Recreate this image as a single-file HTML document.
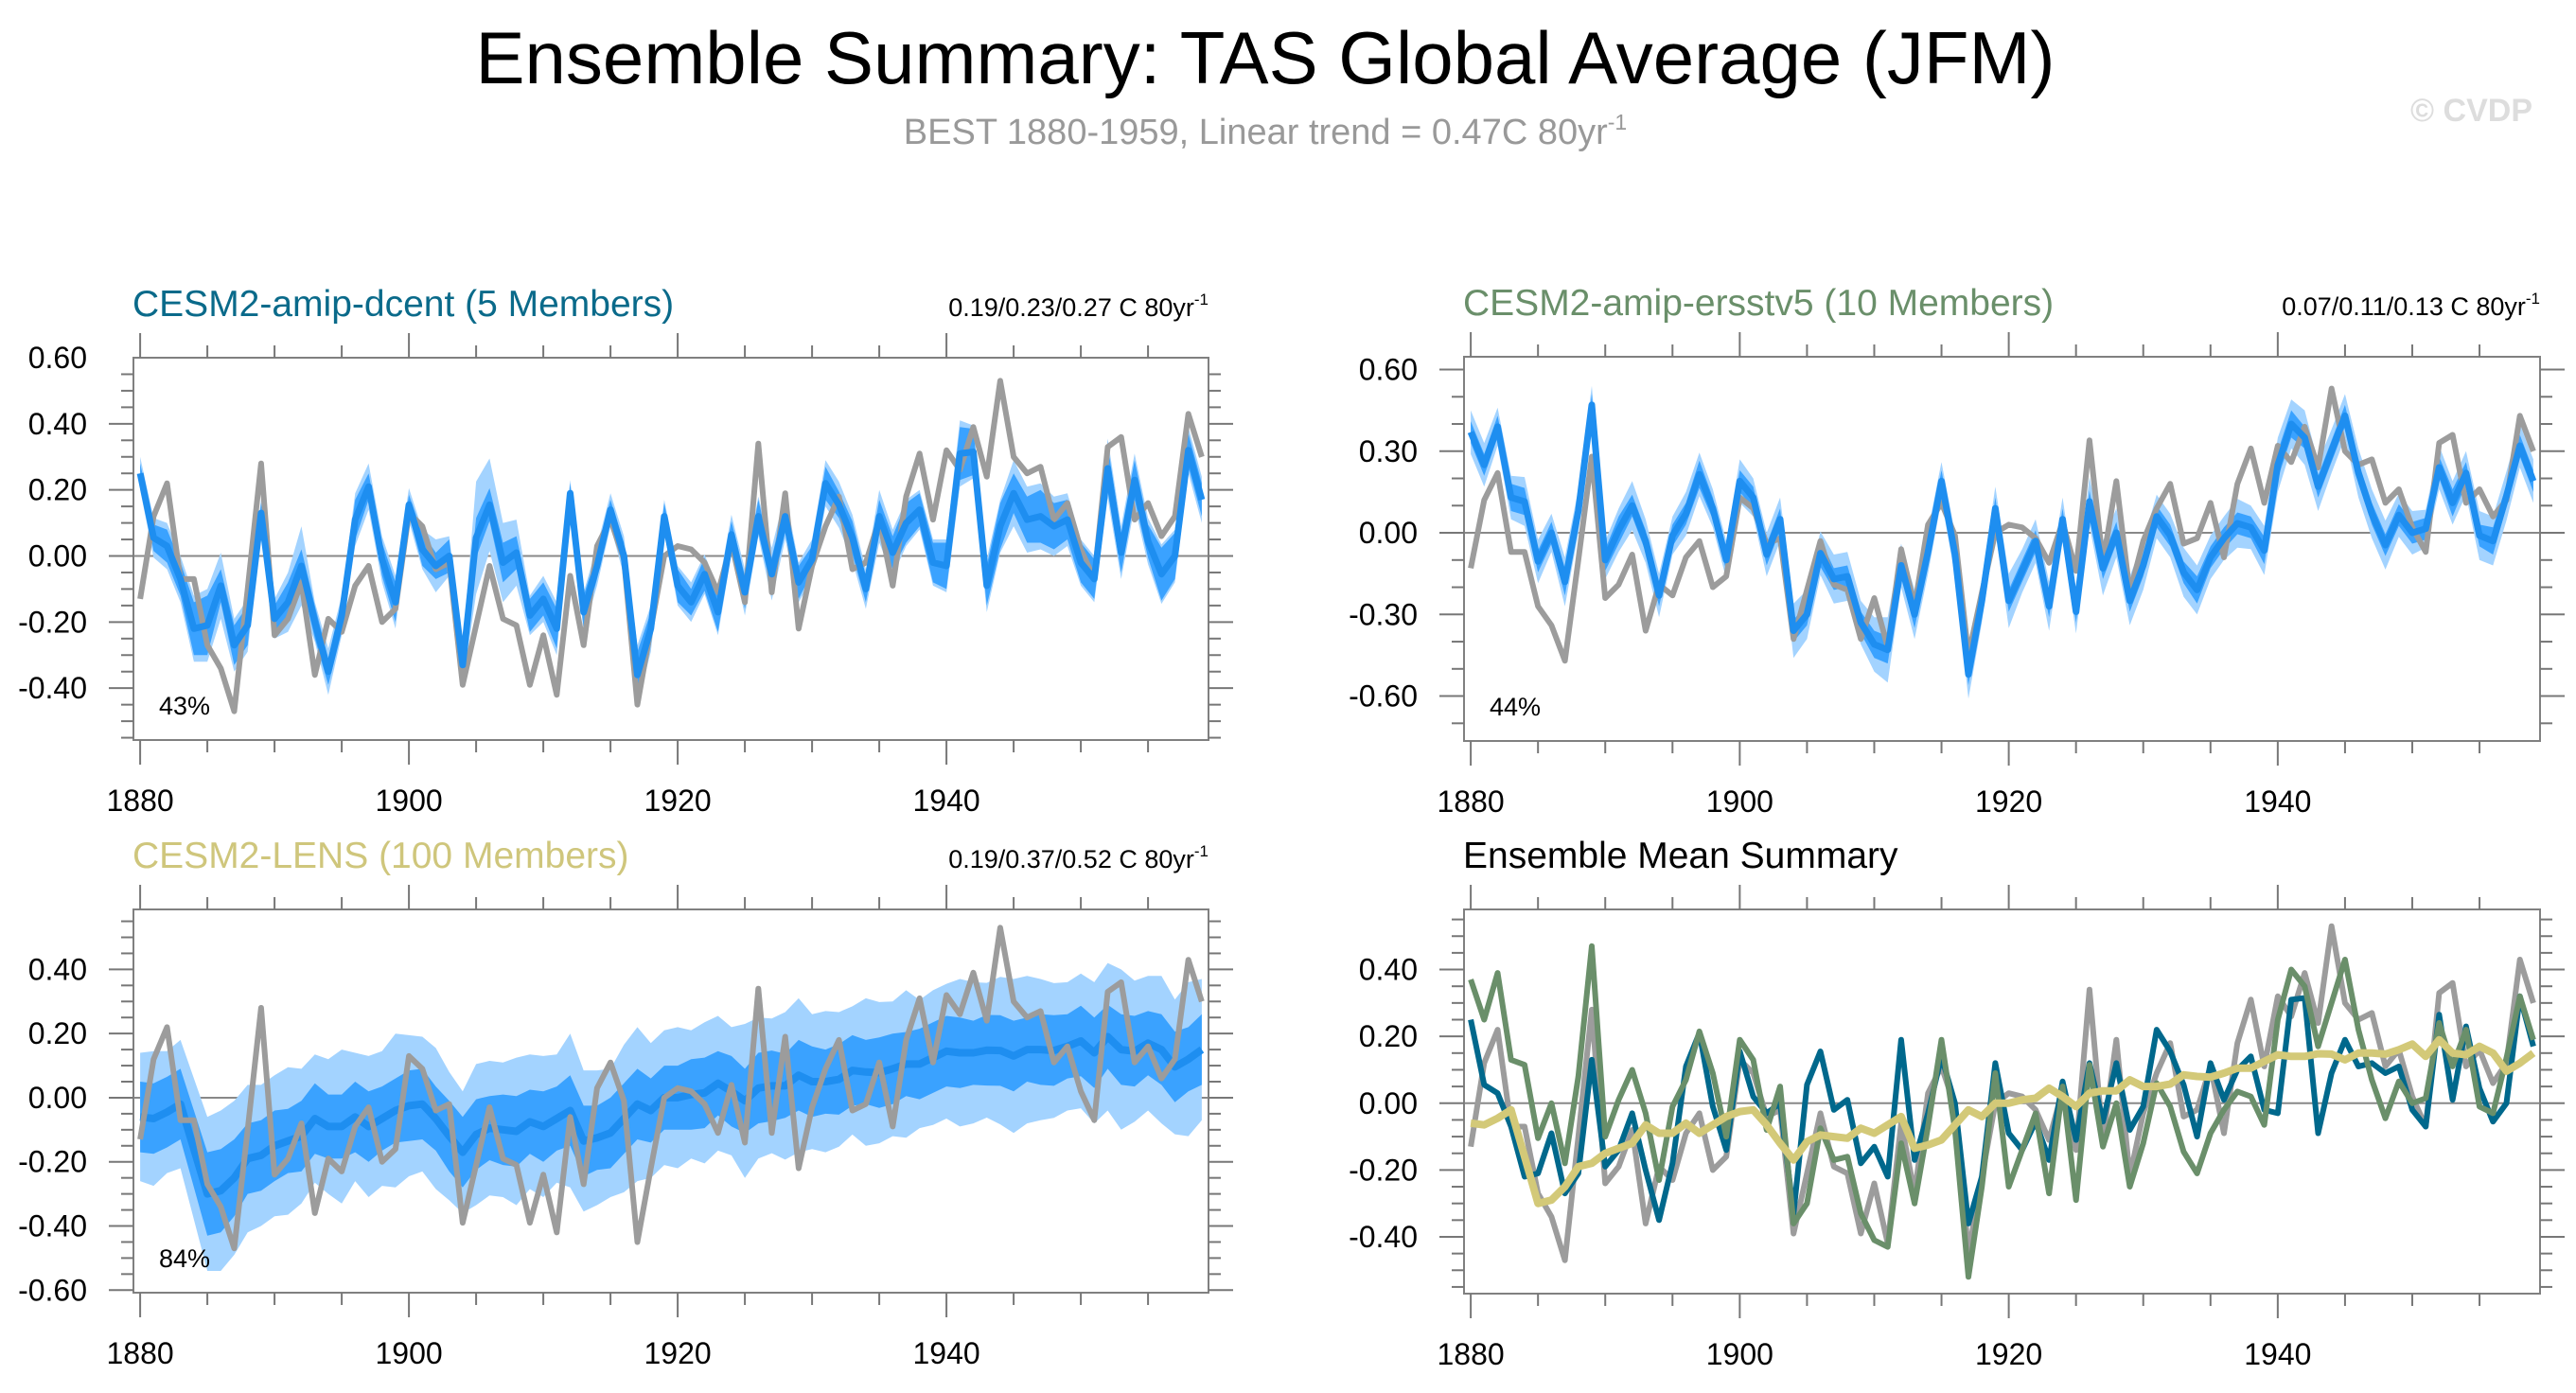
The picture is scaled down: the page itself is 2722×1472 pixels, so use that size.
<!DOCTYPE html>
<html><head><meta charset="utf-8"><style>
html,body{margin:0;padding:0;background:#fff}
svg{display:block;font-family:"Liberation Sans",Arial,sans-serif}
</style></head><body>
<svg id="fig" width="2722" height="1472" viewBox="0 0 2722 1472" xmlns="http://www.w3.org/2000/svg">
<text x="1337" y="88" font-size="78" text-anchor="middle" fill="#000">Ensemble Summary: TAS Global Average (JFM)</text>
<text x="1337" y="152" font-size="38" text-anchor="middle" fill="#999">BEST 1880-1959, Linear trend = 0.47C 80yr<tspan font-size="23" dy="-15">-1</tspan></text>
<text x="2676" y="128" font-size="34" font-weight="bold" text-anchor="end" fill="#ddd">© CVDP</text>
<g id="plots"></g>
</svg>
<script>
const best = [-0.13,0.12,0.22,-0.07,-0.07,-0.27,-0.34,-0.47,-0.10,0.28,
-0.24,-0.19,-0.08,-0.36,-0.19,-0.23,-0.09,-0.03,-0.20,-0.16,
0.13,0.09,-0.04,-0.02,-0.39,-0.21,-0.03,-0.19,-0.21,-0.39,
-0.24,-0.42,-0.06,-0.27,0.03,0.11,-0.01,-0.45,-0.22,0.00,
0.03,0.02,-0.02,-0.11,0.04,-0.14,0.34,-0.11,0.19,-0.22,
-0.03,0.09,0.18,-0.04,-0.02,0.11,-0.09,0.18,0.31,0.11,
0.32,0.26,0.39,0.24,0.53,0.30,0.25,0.27,0.11,0.16,
0.02,-0.07,0.33,0.36,0.11,0.16,0.06,0.12,0.43,0.30];
const dcentMean = [0.25,0.055,0.03,-0.07,-0.22,-0.21,-0.09,-0.27,-0.21,0.13,
-0.19,-0.14,-0.03,-0.20,-0.35,-0.18,0.11,0.21,-0.01,-0.14,
0.155,0.02,-0.03,0.0,-0.33,0.055,0.155,-0.02,0.01,-0.18,
-0.13,-0.22,0.19,-0.17,-0.03,0.14,0.0,-0.36,-0.22,0.12,
-0.09,-0.14,-0.055,-0.17,0.065,-0.11,0.12,-0.055,0.12,-0.08,
-0.01,0.22,0.155,0.055,-0.10,0.12,0.01,0.10,0.14,-0.02,
-0.03,0.31,0.315,-0.09,0.09,0.19,0.11,0.12,0.09,0.11,
-0.02,-0.07,0.265,0.01,0.23,0.045,-0.055,0.0,0.32,0.17];
const ersstMean = [0.37,0.25,0.39,0.13,0.115,-0.105,0.0,-0.18,0.08,0.47,
-0.10,0.01,0.10,-0.03,-0.23,-0.01,0.07,0.215,0.09,-0.10,
0.19,0.13,-0.08,0.05,-0.36,-0.30,-0.075,-0.17,-0.16,-0.33,
-0.41,-0.43,-0.12,-0.30,-0.07,0.19,-0.08,-0.52,-0.25,0.09,
-0.25,-0.14,-0.03,-0.27,0.05,-0.29,0.115,-0.13,0.0,-0.25,
-0.12,0.06,-0.01,-0.145,-0.21,-0.09,-0.02,0.035,0.02,-0.065,
0.25,0.40,0.35,0.17,0.30,0.43,0.22,0.07,-0.045,0.065,
0.0,0.015,0.24,0.11,0.22,-0.01,-0.03,0.135,0.32,0.19];
const lensMean = [-0.06,-0.065,-0.045,-0.02,-0.16,-0.30,-0.29,-0.25,-0.19,-0.18,
-0.15,-0.135,-0.12,-0.065,-0.09,-0.09,-0.06,-0.09,-0.065,-0.04,
-0.025,-0.02,-0.065,-0.12,-0.17,-0.115,-0.095,-0.10,-0.105,-0.075,
-0.09,-0.065,-0.04,-0.135,-0.125,-0.11,-0.065,-0.02,-0.04,0.0,
0.0,0.01,0.015,0.045,0.02,-0.01,0.03,0.037,0.037,0.07,
0.05,0.05,0.057,0.085,0.08,0.078,0.09,0.105,0.105,0.125,
0.145,0.14,0.14,0.148,0.147,0.13,0.15,0.15,0.147,0.16,
0.177,0.14,0.19,0.15,0.145,0.17,0.15,0.096,0.12,0.15];
const dcentInner = [0.03,0.04,0.05,0.05,0.08,0.09,0.05,0.06,0.06,0.03,
0.04,0.06,0.05,0.05,0.04,0.05,0.06,0.04,0.05,0.06,
0.03,0.05,0.04,0.05,0.04,0.06,0.05,0.06,0.05,0.05,
0.05,0.06,0.03,0.05,0.04,0.03,0.04,0.07,0.05,0.04,
0.05,0.04,0.05,0.06,0.04,0.05,0.05,0.05,0.05,0.05,
0.04,0.05,0.04,0.05,0.04,0.05,0.05,0.06,0.05,0.06,
0.07,0.08,0.07,0.06,0.07,0.06,0.07,0.08,0.07,0.06,
0.06,0.06,0.07,0.06,0.06,0.05,0.08,0.07,0.05,0.05];
const dcentOuter = [0.05,0.06,0.07,0.07,0.10,0.11,0.10,0.08,0.08,0.04,
0.06,0.09,0.12,0.06,0.07,0.06,0.08,0.07,0.07,0.08,
0.05,0.06,0.08,0.06,0.06,0.17,0.14,0.12,0.10,0.06,
0.07,0.08,0.04,0.06,0.06,0.05,0.06,0.09,0.07,0.05,
0.06,0.06,0.06,0.07,0.06,0.07,0.06,0.08,0.07,0.06,
0.06,0.07,0.07,0.07,0.06,0.08,0.07,0.07,0.06,0.07,
0.08,0.10,0.08,0.08,0.08,0.10,0.10,0.10,0.09,0.08,
0.07,0.07,0.09,0.08,0.08,0.07,0.09,0.08,0.07,0.07];
const ersstInner = [0.04,0.04,0.04,0.05,0.05,0.04,0.04,0.05,0.04,0.04,
0.04,0.05,0.04,0.04,0.04,0.04,0.04,0.05,0.04,0.04,
0.04,0.04,0.04,0.04,0.04,0.04,0.05,0.04,0.04,0.04,
0.05,0.05,0.04,0.05,0.04,0.04,0.05,0.04,0.04,0.04,
0.04,0.04,0.04,0.04,0.04,0.04,0.04,0.04,0.04,0.04,
0.04,0.04,0.04,0.04,0.05,0.04,0.04,0.04,0.04,0.05,
0.05,0.05,0.04,0.04,0.04,0.04,0.04,0.04,0.04,0.04,
0.04,0.04,0.04,0.05,0.04,0.04,0.05,0.04,0.04,0.04];
const ersstOuter = [0.08,0.08,0.07,0.08,0.09,0.08,0.07,0.09,0.08,0.07,
0.07,0.08,0.09,0.08,0.08,0.07,0.08,0.08,0.07,0.07,
0.08,0.07,0.08,0.08,0.10,0.09,0.08,0.09,0.09,0.08,
0.10,0.12,0.08,0.09,0.08,0.07,0.08,0.09,0.08,0.08,
0.10,0.08,0.08,0.09,0.08,0.08,0.09,0.10,0.09,0.09,
0.09,0.08,0.08,0.09,0.09,0.08,0.08,0.09,0.08,0.09,
0.10,0.09,0.10,0.09,0.08,0.08,0.09,0.09,0.09,0.08,
0.08,0.07,0.08,0.08,0.08,0.09,0.09,0.09,0.08,0.08];
const lensInner = [0.11,0.11,0.11,0.11,0.12,0.13,0.13,0.12,0.11,0.11,
0.11,0.10,0.11,0.11,0.10,0.10,0.11,0.11,0.10,0.10,
0.11,0.11,0.10,0.11,0.11,0.11,0.10,0.11,0.11,0.10,
0.11,0.10,0.11,0.11,0.10,0.11,0.11,0.11,0.10,0.10,
0.10,0.11,0.11,0.10,0.11,0.10,0.11,0.11,0.10,0.11,
0.11,0.10,0.11,0.11,0.10,0.11,0.11,0.10,0.11,0.11,
0.11,0.11,0.10,0.11,0.11,0.11,0.10,0.11,0.11,0.10,
0.11,0.11,0.10,0.11,0.11,0.10,0.11,0.11,0.10,0.11];
const lensOuter = [0.20,0.21,0.19,0.20,0.22,0.24,0.25,0.24,0.23,0.22,
0.22,0.23,0.21,0.20,0.21,0.24,0.20,0.22,0.21,0.24,
0.22,0.21,0.22,0.20,0.19,0.22,0.21,0.21,0.23,0.21,
0.22,0.20,0.24,0.22,0.21,0.20,0.23,0.24,0.21,0.21,
0.22,0.20,0.22,0.21,0.20,0.24,0.22,0.21,0.23,0.24,
0.21,0.22,0.21,0.20,0.23,0.22,0.21,0.23,0.20,0.21,
0.21,0.23,0.22,0.21,0.23,0.24,0.23,0.22,0.21,0.20,
0.21,0.22,0.23,0.25,0.22,0.21,0.23,0.21,0.24,0.22];
const startYear = 1880;
const xTickYears = [1880,1900,1920,1940];
const ticks1 = [0.6,0.4,0.2,0,-0.2,-0.4];
const ticks2 = [0.6,0.3,0,-0.3,-0.6];
const ticks3 = [0.4,0.2,0,-0.2,-0.4,-0.6];
const ticks4 = [0.4,0.2,0,-0.2,-0.4];

const NS = "http://www.w3.org/2000/svg";
const root = document.getElementById('plots');
function mk(tag, attrs, parent){ const e=document.createElementNS(NS,tag); for(const k in attrs) e.setAttribute(k,attrs[k]); (parent||root).appendChild(e); return e; }

function panel(cfg){
  const g = mk('g',{});
  
  
  const xs = yr => cfg.x0 + (yr - (startYear-0.5)) / 80 * (cfg.x1 - cfg.x0);
  const ys = v => cfg.y1 - (v - cfg.ymin) / (cfg.ymax - cfg.ymin) * (cfg.y1 - cfg.y0);
  const n = best.length;
  const yr = i => startYear + i;
  const cid = 'clip'+cfg.name;
  const cp = mk('clipPath',{id:cid},g); mk('rect',{x:cfg.x0,y:cfg.y0,width:cfg.x1-cfg.x0,height:cfg.y1-cfg.y0},cp);
  const plot = mk('g',{'clip-path':'url(#'+cid+')'},g);
  function band(mean, half, color, nm){
    let up=[],dn=[];
    for(let i=0;i<n;i++){ up.push(xs(yr(i)).toFixed(1)+','+ys(mean[i]+half[i]).toFixed(1)); }
    for(let i=n-1;i>=0;i--){ dn.push(xs(yr(i)).toFixed(1)+','+ys(mean[i]-half[i]).toFixed(1)); }
    const p = mk('polygon',{points:up.concat(dn).join(' '),fill:color,stroke:'none'},plot);
    
    
  }
  function line(arr, color, w, nm){
    const pts = arr.map((v,i)=>xs(yr(i)).toFixed(1)+','+ys(v).toFixed(1)).join(' ');
    const p = mk('polyline',{points:pts,fill:'none',stroke:color,'stroke-width':w,'stroke-linejoin':'round'},plot);
    
    
  }
  const zl = mk('line',{x1:cfg.x0,x2:cfg.x1,y1:ys(0),y2:ys(0),stroke:'#888','stroke-width':2},plot);
  
  
  cfg.draw(band,line);
  const box = mk('rect',{x:cfg.x0,y:cfg.y0,width:cfg.x1-cfg.x0,height:cfg.y1-cfg.y0,fill:'none',stroke:'#808080','stroke-width':2},g);
  
  
  for(let y=startYear;y<startYear+80;y+=5){
    const major = (y-startYear)%20===0; const L = major?26:13; const x = xs(y);
    mk('line',{x1:x,x2:x,y1:cfg.y0,y2:cfg.y0-L,stroke:'#777','stroke-width':2},g);
    mk('line',{x1:x,x2:x,y1:cfg.y1,y2:cfg.y1+L,stroke:'#777','stroke-width':2},g);
  }
  xTickYears.forEach(y=>{
    const t = mk('text',{x:xs(y),y:cfg.y1+75,'font-size':32,'text-anchor':'middle',fill:'#000'},g);
    t.textContent = y;
    
    
  });
  const st = cfg.minor;
  for(let k=Math.ceil(cfg.ymin/st);k<=Math.floor(cfg.ymax/st);k++){
    const v = k*st; const major = cfg.ticks.some(t=>Math.abs(t-v)<1e-6); const L = major?26:13; const y = ys(v);
    mk('line',{x1:cfg.x0,x2:cfg.x0-L,y1:y,y2:y,stroke:'#777','stroke-width':2},g);
    mk('line',{x1:cfg.x1,x2:cfg.x1+L,y1:y,y2:y,stroke:'#777','stroke-width':2},g);
  }
  cfg.ticks.forEach(v=>{
    const t = mk('text',{x:cfg.x0-49,y:ys(v)+11,'font-size':32,'text-anchor':'end',fill:'#000'},g);
    t.textContent = v.toFixed(2);
    
    
  });
  const tt = mk('text',{x:cfg.x0-1,y:cfg.y0-44,'font-size':39,fill:cfg.titleColor},g);
  tt.textContent = cfg.title;
  
  
  if(cfg.trend){
    const tr = mk('text',{x:cfg.x1,y:cfg.y0-44,'font-size':27,'text-anchor':'end',fill:'#000'},g);
    
    
    tr.appendChild(document.createTextNode(cfg.trend+' C 80yr'));
    const sp = mk('tspan',{'font-size':17,dy:-12},tr); sp.textContent='-1';
  }
  if(cfg.pct){
    const pc = mk('text',{x:cfg.x0+27,y:cfg.y1-27,'font-size':27,fill:'#000'},g);
    pc.textContent = cfg.pct;
    
    
  }
}

const LIGHT='#a3d3ff', MID='#3aa2ff', BLUE='#1e8ef0', GRAY='#9c9c9c';
panel({name:'panel-dcent',x0:141,x1:1277,y0:378,y1:782,ymin:-0.557,ymax:0.60,ticks:ticks1,minor:0.05,
  title:'CESM2-amip-dcent (5 Members)',titleColor:'#0a6a8a',trend:'0.19/0.23/0.27',pct:'43%',
  draw:(band,line)=>{band(dcentMean,dcentOuter,LIGHT,'outer-band');band(dcentMean,dcentInner,MID,'inner-band');line(best,GRAY,6,'best-line');line(dcentMean,BLUE,7,'ensemble-mean-line');}});
panel({name:'panel-ersstv5',x0:1547,x1:2684,y0:377,y1:783,ymin:-0.765,ymax:0.647,ticks:ticks2,minor:0.1,
  title:'CESM2-amip-ersstv5 (10 Members)',titleColor:'#6a8f6a',trend:'0.07/0.11/0.13',pct:'44%',
  draw:(band,line)=>{band(ersstMean,ersstOuter,LIGHT,'outer-band');band(ersstMean,ersstInner,MID,'inner-band');line(best,GRAY,6,'best-line');line(ersstMean,BLUE,7,'ensemble-mean-line');}});
panel({name:'panel-lens',x0:141,x1:1277,y0:961,y1:1366,ymin:-0.608,ymax:0.587,ticks:ticks3,minor:0.05,
  title:'CESM2-LENS (100 Members)',titleColor:'#cfc67c',trend:'0.19/0.37/0.52',pct:'84%',
  draw:(band,line)=>{band(lensMean,lensOuter,LIGHT,'outer-band');band(lensMean,lensInner,MID,'inner-band');line(lensMean,BLUE,8,'ensemble-mean-line');line(best,GRAY,6,'best-line');}});
panel({name:'panel-mean-summary',x0:1547,x1:2684,y0:961,y1:1367,ymin:-0.570,ymax:0.58,ticks:ticks4,minor:0.05,
  title:'Ensemble Mean Summary',titleColor:'#000',
  draw:(band,line)=>{line(best,GRAY,6,'best-line');line(dcentMean,'#00688c',6,'dcent-mean-line');line(ersstMean,'#6a8f6a',6,'ersstv5-mean-line');line(lensMean,'#d3c978',8,'lens-mean-line');}});
</script>
</body></html>
